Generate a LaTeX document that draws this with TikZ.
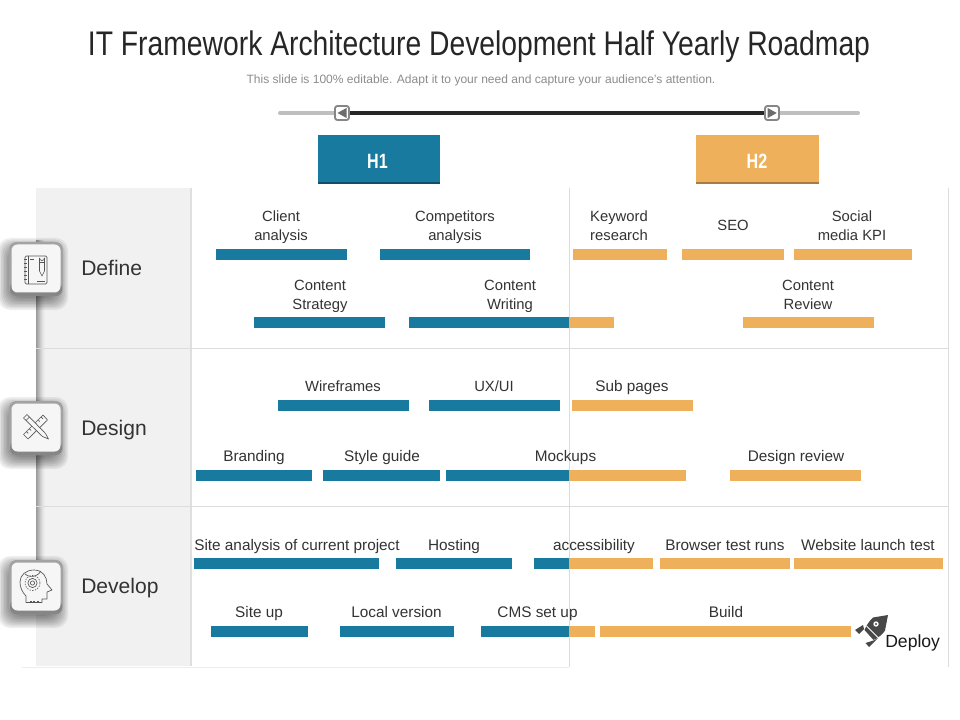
\documentclass[tikz,border=0pt]{standalone}
\usepackage{fontspec}
\setmainfont{Liberation Sans}
\usetikzlibrary{calc}
\definecolor{tealbar}{HTML}{187A9E}
\definecolor{orangebar}{HTML}{EFB05C}
\definecolor{panel}{HTML}{F1F1F1}
\definecolor{rulegrey}{HTML}{DCDCDC}
\definecolor{ink}{HTML}{333333}
\definecolor{iconink}{HTML}{555555}
\tikzset{
  barbox/.style={inner sep=0pt,outer sep=0pt,anchor=north west,minimum height=8.25pt},
  tealb/.style={barbox,fill=tealbar},
  orangeb/.style={barbox,fill=orangebar},
  lab/.style={font=\fontsize{11.1pt}{14.25pt}\selectfont,text=ink,align=center,inner sep=0pt,text height=8pt,text depth=2.3pt,yshift=-1.5pt},
  labw/.style={lab,font=\fontsize{11.5pt}{14.25pt}\selectfont},
  labtwo/.style={font=\fontsize{11.1pt}{14.25pt}\selectfont,text=ink,align=center,inner sep=0pt,yshift=-1.5pt},
  stage/.style={font=\fontsize{15.8pt}{18pt}\selectfont,text=ink,anchor=base west,inner sep=0pt},
  iconline/.style={draw=iconink,line width=0.5pt,line join=round},
  hhead/.style={inner sep=0pt,anchor=north west,minimum height=36.75pt},
  hlabel/.style={inner sep=0pt,text=white,text height=11pt,text depth=0pt,font=\bfseries\fontsize{15.5pt}{17pt}\selectfont},
  sliderhandle/.style={draw=gray!95,fill=white,line width=1.4pt,rounded corners=1.8pt,minimum size=10.5pt,inner sep=0pt},
}
\newcommand{\rbar}[5]{\node[#2,minimum width={(#4-#3)*0.75pt}] (#1) at (#3,#5) {};}
\newcommand{\twolines}[2]{\vphantom{Ay}#1\\\vphantom{Ay}#2}
\newcommand{\iconcard}[2]{%
  \foreach \g in {0,1.5,...,12}{
    \fill[black,opacity=0.062,rounded corners=9pt] (#2-\g+1,#1-\g+8) rectangle (#2+53+\g-6,#1+53+\g+3);
  }
  \fill[gray!72,rounded corners=5.5pt] (#2,#1) rectangle (#2+54,#1+54);
  \fill[gray!95,rounded corners=4.5pt] (#2+1,#1+40) rectangle (#2+53,#1+54);
  \fill[gray!7,rounded corners=4.5pt] (#2+2.5,#1+2.5) rectangle (#2+51.5,#1+50.5);
}
\begin{document}
\begin{tikzpicture}[x=0.75pt,y=-0.75pt]
\useasboundingbox (0,0) rectangle (960,720);
\fill[white] (0,0) rectangle (960,720);

% title
\node[inner sep=0pt,text=black!85] (title) at (479,47) {\scalebox{0.829}[1]{\fontsize{25.6pt}{30pt}\selectfont IT Framework Architecture Development Half Yearly Roadmap}};
\node[inner sep=0pt,text=gray!90] (subtitle) at (481,80) {\fontsize{9.03pt}{10pt}\selectfont This slide is 100\% editable. Adapt it to your need and capture your audience’s attention.};

% slider
\coordinate (sl) at (280,113); \coordinate (sr) at (858,113);
\draw[line width=3pt,gray!50,line cap=round] (sl) -- (sr);
\draw[line width=3.2pt,black!85] (342,113) -- (772,113);
\node[sliderhandle] (h1h) at (342,113) {};
\node[sliderhandle] (h2h) at (772,113) {};
\fill[gray!85!black] (346.5,108) -- (337.5,113) -- (346.5,118) -- cycle;
\fill[gray!85!black] (767.7,108) -- (776.7,113) -- (767.7,118) -- cycle;

% headers
\node[hhead,fill=tealbar,minimum width=91.5pt] (h1) at (318,135) {};
\node[hhead,fill=orangebar,minimum width=92.25pt] (h2) at (696,135) {};
\fill[tealbar!65!black] (318,182.5) rectangle (440,184.5);
\fill[orangebar!70!black] (696,182.5) rectangle (819,184.5);
\node[hlabel] (h1t) at (377.5,161) {\scalebox{0.78}[1]{H1}};
\node[hlabel] (h2t) at (757,161) {\scalebox{0.78}[1]{H2}};

% panel
\fill[panel] (36,188) rectangle (190,666);
\fill[gray!25] (190,188) rectangle (192,666);
\foreach \i/\o in {0/0.36,1/0.31,2/0.26,3/0.21,4/0.16,5/0.11,6/0.07,7/0.04,8/0.02}{
  \fill[black,opacity=\o] (36+\i,240) rectangle (37+\i,600);
}
\draw[rulegrey,line width=0.6pt] (36,348) -- (948,348);
\draw[rulegrey,line width=0.6pt] (36,506) -- (948,506);
\draw[rulegrey,line width=0.6pt] (569,188) -- (569,667);
\draw[rulegrey,line width=0.6pt] (948,188) -- (948,667);
\draw[rulegrey!50,line width=0.6pt] (22,667) -- (569,667);

% stages
\iconcard{242}{9}
\iconcard{401}{9}
\iconcard{560}{9}
\node[stage] (define) at (81,276) {Define};
\node[stage] (design) at (81,435) {Design};
\node[stage] (develop) at (81,593.5) {Develop};

% notebook icon
\begin{scope}[iconline]
  \draw[rounded corners=1pt] (25,256) rectangle (47,284);
  \draw (28,256) -- (28,284);
  \foreach \yy in {259,263,267,271,275,279}{\draw (23.5,\yy) -- (26.5,\yy);}
  \draw[fill=gray!7] (39.5,258) -- (39.5,271) -- (42,276) -- (44.5,271) -- (44.5,258) arc (0:180:2.5);
  \draw (39.5,262) -- (44.5,262);
  \draw (30,259) -- (34,259);
  \draw (37,281.5) -- (45,281.5);
\end{scope}

% pencil and ruler icon
\begin{scope}[iconline]
  \draw (23.5,434.5) -- (43,415) -- (47.5,420) -- (28,439) -- cycle;
  \foreach \k in {0.15,0.3,0.45,0.6,0.75,0.9}{\draw ($(23.5,434.5)!\k!(43,415)$) -- ++(1.8,1.8);}
  \draw[fill=gray!7] (23.5,418) -- (27,414.5) -- (45.5,433.5) -- (48.5,439) -- (42.5,436.5) -- cycle;
  \draw (26,420.5) -- (29.5,417);
\end{scope}

% head icon
\begin{scope}[iconline]
  \draw (26,602.5) -- (26,596) .. controls (22,592) and (20,587) .. (20,582) .. controls (20,575) and (26,570) .. (34,570) .. controls (43,570) and (47,577) .. (47,584) -- (52,590) -- (47,592) -- (47,599) -- (42,599) -- (42,602.5) -- cycle;
  \draw (32.5,583) circle (4.6);
  \draw (32.5,583) circle (2.1);
  \draw[dash pattern=on 1pt off 1pt] (32.5,583) circle (7.5);
  \draw (25,574) arc (130:30:10.5);
  \draw[dash pattern=on 1.5pt off 1pt] (30,601) -- (40,601);
\end{scope}

% row 1
\rbar{b1}{tealb}{216}{347}{249}
\rbar{b2}{tealb}{380}{530}{249}
\rbar{b3}{orangeb}{573}{667}{249}
\rbar{b4}{orangeb}{682}{784}{249}
\rbar{b5}{orangeb}{794}{912}{249}
\node[labtwo] (l1) at (281,225.5) {\twolines{Client}{analysis}};
\node[labtwo] (l2) at (455,225.5) {\twolines{Competitors}{analysis}};
\node[labtwo] (l3) at (619,225.5) {\twolines{Keyword}{research}};
\node[lab] (l4) at (733,225) {SEO};
\node[labtwo] (l5) at (852,225.5) {\twolines{Social}{media KPI}};
% row 2
\rbar{b6}{tealb}{254}{385}{317}
\rbar{b7}{tealb}{409}{569}{317}
\rbar{b7b}{orangeb}{569}{614}{317}
\rbar{b8}{orangeb}{743}{874}{317}
\node[labtwo] (l6) at (320,294.5) {\twolines{Content}{Strategy}};
\node[labtwo] (l7) at (510,294.5) {\twolines{Content}{Writing}};
\node[labtwo] (l8) at (808,294.5) {\twolines{Content}{Review}};
% row 3
\rbar{b9}{tealb}{278}{409}{400}
\rbar{b10}{tealb}{429}{560}{400}
\rbar{b11}{orangeb}{572}{693}{400}
\node[lab] (l9) at (343,385.5) {Wireframes};
\node[lab] (l10) at (494,385.5) {UX/UI};
\node[labw] (l11) at (632,385.5) {Sub pages};
% row 4
\rbar{b12}{tealb}{196}{312}{470}
\rbar{b13}{tealb}{323}{440}{470}
\rbar{b14}{tealb}{446}{569}{470}
\rbar{b14b}{orangeb}{569}{686}{470}
\rbar{b15}{orangeb}{730}{861}{470}
\node[labw] (l12) at (254,455.5) {Branding};
\node[labw] (l13) at (382,455.5) {Style guide};
\node[labw] (l14) at (565.5,455.5) {Mockups};
\node[labw] (l15) at (796,455.5) {Design review};
% row 5
\rbar{b16}{tealb}{194}{379}{558}
\rbar{b17}{tealb}{396}{512}{558}
\rbar{b18}{tealb}{534}{569}{558}
\rbar{b18b}{orangeb}{569}{653}{558}
\rbar{b19}{orangeb}{660}{790}{558}
\rbar{b20}{orangeb}{794}{943}{558}
\node[labw] (l16) at (297,544.5) {Site analysis of current project};
\node[labw] (l17) at (454,544.5) {Hosting};
\node[labw] (l18) at (594,544.5) {accessibility};
\node[labw] (l19) at (725,544.5) {Browser test runs};
\node[labw] (l20) at (868,544.5) {Website launch test};
% row 6
\rbar{b21}{tealb}{211}{308}{626}
\rbar{b22}{tealb}{340}{454}{626}
\rbar{b23}{tealb}{481}{569}{626}
\rbar{b23b}{orangeb}{569}{595}{626}
\rbar{b24}{orangeb}{600}{851}{626}
\node[labw] (l21) at (259,611.5) {Site up};
\node[labw] (l22) at (396.5,611.5) {Local version};
\node[labw] (l23) at (537.5,611.5) {CMS set up};
\node[labw] (l24) at (726,611.5) {Build};

% rocket
\fill[iconink!85!black] (888,615) -- (873,617.5) .. controls (870,620) and (866,626) .. (864.5,630) -- (873.5,640) .. controls (878,638) and (883,634) .. (885,630.5) -- cycle;
\fill[white] (876,624) circle (2.7);
\fill[iconink!85!black] (876,624) circle (1.2);
\draw[white,line width=0.7pt] (866.5,626) -- (878,637.5);
\fill[iconink!85!black] (863,625) -- (855,630) -- (859,634) -- (864,629) -- cycle;
\fill[iconink!85!black] (878,638) -- (869,647) -- (865.5,643) -- (873.5,640.5) -- cycle;
\node[inner sep=0pt,anchor=base west,text=black!90,font=\fontsize{13.2pt}{15pt}\selectfont] (deploy) at (885,647) {Deploy};
\end{tikzpicture}
\end{document}
